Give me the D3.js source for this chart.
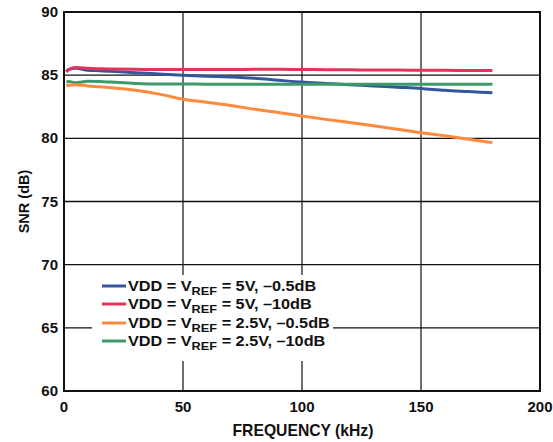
<!DOCTYPE html>
<html><head><meta charset="utf-8">
<script src="https://cdn.jsdelivr.net/npm/d3@7"></script>
<style>body{margin:0;background:#fff}svg{display:block}text{font-family:"Liberation Sans",Arial,sans-serif;font-weight:bold}</style>
</head><body><div id="chart"></div>
<script>
const freq = [1, 2, 5, 10, 15, 20, 30, 40, 50, 60, 70, 80, 90, 100, 110, 120, 130, 140, 150, 160, 170, 180];
const snr5v05 = [85.3, 85.45, 85.55, 85.38, 85.35, 85.3, 85.2, 85.1, 85.0, 84.92, 84.85, 84.75, 84.6, 84.45, 84.35, 84.25, 84.15, 84.05, 83.95, 83.8, 83.7, 83.6];
const snr5v10 = [85.25, 85.45, 85.6, 85.55, 85.5, 85.48, 85.46, 85.45, 85.45, 85.45, 85.45, 85.46, 85.47, 85.45, 85.43, 85.42, 85.4, 85.4, 85.39, 85.38, 85.37, 85.36];
const snr25v05 = [84.15, 84.2, 84.25, 84.15, 84.08, 84.0, 83.8, 83.5, 83.1, 82.85, 82.6, 82.3, 82.05, 81.77, 81.5, 81.25, 81.0, 80.72, 80.45, 80.2, 79.93, 79.66];
const snr25v10 = [84.45, 84.5, 84.4, 84.52, 84.5, 84.45, 84.35, 84.3, 84.3, 84.29, 84.28, 84.28, 84.28, 84.28, 84.28, 84.28, 84.28, 84.28, 84.28, 84.28, 84.28, 84.28];
const seriesNames = [["VDD = V", "REF", " = 5V, \u20130.5dB"], ["VDD = V", "REF", " = 5V, \u201310dB"], ["VDD = V", "REF", " = 2.5V, \u20130.5dB"], ["VDD = V", "REF", " = 2.5V, \u201310dB"]];
const seriesColors = ["#34579b", "#e4325a", "#fd8a3d", "#3b9a68"];
const xTicks = [0, 50, 100, 150, 200];
const yTicks = [60, 65, 70, 75, 80, 85, 90];

const W = 553, H = 442;
const m = {l: 64, r: 13, t: 12, b: 51};
const svg = d3.select("#chart").append("svg").attr("width", W).attr("height", H);
const x = d3.scaleLinear().domain([0, 200]).range([m.l, W - m.r]);
const y = d3.scaleLinear().domain([60, 90]).range([H - m.b, m.t]);

// grid
const g = svg.append("g");
g.selectAll(".vg").data(xTicks.slice(1, -1)).join("line")
  .attr("x1", d => x(d)).attr("x2", d => x(d)).attr("y1", y(90)).attr("y2", y(60))
  .attr("stroke", "#222").attr("stroke-width", 1.3);
g.selectAll(".hg").data(yTicks.slice(1, -1)).join("line")
  .attr("x1", x(0)).attr("x2", x(200)).attr("y1", d => y(d)).attr("y2", d => y(d))
  .attr("stroke", "#111").attr("stroke-width", 1.3);

// data lines
const all = [snr5v05, snr5v10, snr25v05, snr25v10];
const line = d3.line().x((d, i) => x(freq[i])).y(d => y(d)).curve(d3.curveMonotoneX);
[0, 3, 2, 1].forEach(k => {
  svg.append("path").datum(all[k]).attr("d", line).attr("fill", "none")
    .attr("stroke", seriesColors[k]).attr("stroke-width", 3).attr("stroke-linecap", "butt");
});

// legend
const lg = svg.append("g");
lg.append("rect").attr("x", 92).attr("y", 275).attr("width", 241).attr("height", 86).attr("fill", "#fff");
const rowY = [286, 304, 323, 341];
seriesNames.forEach((nm, i) => {
  lg.append("line").attr("x1", 102).attr("x2", 126).attr("y1", rowY[i]).attr("y2", rowY[i])
    .attr("stroke", seriesColors[i]).attr("stroke-width", 3);
  const t = lg.append("text").attr("transform", `translate(128,${rowY[i] + 5}) scale(1.16,1)`)
    .attr("font-size", 14).attr("fill", "#111");
  t.append("tspan").text(nm[0]);
  t.append("tspan").attr("font-size", 11).attr("dy", 4).text(nm[1]);
  t.append("tspan").attr("dy", -4).text(nm[2]);
});

// frame
svg.append("rect").attr("x", x(0)).attr("y", y(90)).attr("width", x(200) - x(0)).attr("height", y(60) - y(90))
  .attr("fill", "none").attr("stroke", "#111").attr("stroke-width", 2);

// tick labels
svg.selectAll(".xt").data(xTicks).join("text")
  .attr("x", d => x(d)).attr("y", 412).attr("text-anchor", "middle").attr("font-size", 15).attr("fill", "#111").text(d => d);
svg.selectAll(".yt").data(yTicks).join("text")
  .attr("x", 58).attr("y", d => y(d) + 5).attr("text-anchor", "end").attr("font-size", 15).attr("fill", "#111").text(d => d);

// axis titles
svg.append("text").attr("x", 303).attr("y", 436).attr("text-anchor", "middle")
  .attr("font-size", 15.7).attr("fill", "#111").text("FREQUENCY (kHz)");
svg.append("text").attr("transform", `translate(29,${(y(60) + y(90)) / 2}) rotate(-90)`).attr("text-anchor", "middle")
  .attr("font-size", 14.5).attr("fill", "#111").text("SNR (dB)");
</script></body></html>
